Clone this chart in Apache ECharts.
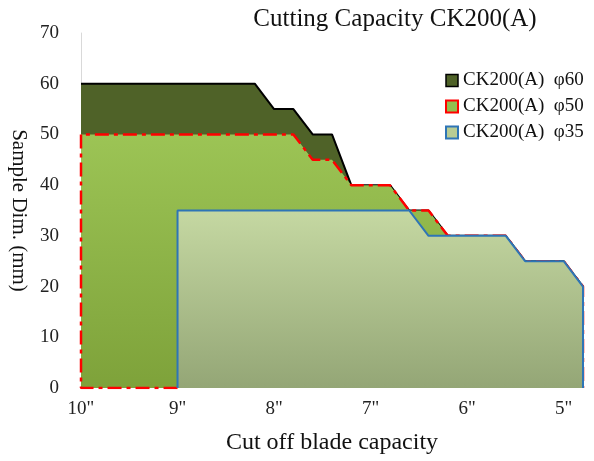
<!DOCTYPE html>
<html>
<head>
<meta charset="utf-8">
<script src="https://cdn.jsdelivr.net/npm/echarts@6/dist/echarts.min.js"></script>
<style>
  html, body { margin: 0; padding: 0; background: #fff; }
  #chart { width: 594px; height: 461px; }
</style>
</head>
<body>
<div id="chart"></div>
<script>
// blade size (inch) and sample dim (mm) outline points
const seriesNames = ['CK200(A)  φ60', 'CK200(A)  φ50', 'CK200(A)  φ35'];
const phi60X = [10, 8.2, 8.0, 7.8, 7.6, 7.4, 7.2, 6.8, 6.6, 6.4, 6.2, 5.6, 5.4, 5.0, 4.8, 4.8];
const phi60Y = [60, 60, 55, 55, 50, 50, 40, 40, 35, 35, 30, 30, 25, 25, 20, 0];
const phi50X = [9, 10, 10, 7.8, 7.6, 7.4, 7.2, 6.8, 6.6, 6.4, 6.2, 5.6, 5.4, 5.0, 4.8, 4.8];
const phi50Y = [0, 0, 50, 50, 45, 45, 40, 40, 35, 35, 30, 30, 25, 25, 20, 0];
const phi35X = [9, 9, 6.6, 6.4, 5.6, 5.4, 5.0, 4.8, 4.8];
const phi35Y = [0, 35, 35, 30, 30, 25, 25, 20, 0];
const xTicks = [10, 9, 8, 7, 6, 5];

const FONT = "'Liberation Serif', serif";

const zip = (xs, ys) => xs.map((x, i) => [x, ys[i]]);

const chart = echarts.init(document.getElementById('chart'));

const grad = (top, bottom) => new echarts.graphic.LinearGradient(0, 0, 0, 1, [
  { offset: 0, color: top },
  { offset: 1, color: bottom }
]);

const option = {
  backgroundColor: '#fff',
  animation: false,
  title: {
    text: 'Cutting Capacity CK200(A)',
    left: 390,
    textAlign: 'center',
    top: 2,
    textStyle: { fontFamily: FONT, fontSize: 25, fontWeight: 'normal', color: '#111' }
  },
  legend: {
    orient: 'vertical',
    left: 440,
    top: 66,
    itemGap: 7,
    itemWidth: 12,
    itemHeight: 12,
    textStyle: { fontFamily: FONT, fontSize: 19, color: '#111' },
    data: [
      { name: seriesNames[0], icon: 'rect', itemStyle: { color: '#4F6228', borderColor: '#000', borderWidth: 1.5 } },
      { name: seriesNames[1], icon: 'rect', itemStyle: { color: '#92BE4E', borderColor: '#FF0000', borderWidth: 2 } },
      { name: seriesNames[2], icon: 'rect', itemStyle: { color: '#B8CC94', borderColor: '#2E75B6', borderWidth: 2 } }
    ]
  },
  grid: { left: 81, right: 11, top: 33, bottom: 73, outerBoundsMode: 'none' },
  xAxis: {
    type: 'value',
    min: 4.8,
    max: 10,
    interval: 0.2,
    inverse: true,
    name: 'Cut off blade capacity',
    nameLocation: 'middle',
    nameGap: 43,
    nameTextStyle: { fontFamily: FONT, fontSize: 24, color: '#111' },
    axisLine: { show: false },
    axisTick: { show: false },
    splitLine: { show: false },
    axisLabel: {
      fontFamily: FONT, fontSize: 19, color: '#222', margin: 12,
      showMinLabel: true,
      showMaxLabel: true,
      formatter: v => {
        const r = Math.round(v);
        return Math.abs(v - r) < 1e-6 && xTicks.includes(r) ? r + '"' : '';
      }
    }
  },
  yAxis: {
    type: 'value',
    min: 0,
    max: 70,
    interval: 10,
    name: 'Sample Dim. (mm)',
    nameLocation: 'middle',
    nameRotate: -90,
    nameGap: 50,
    nameTextStyle: { fontFamily: FONT, fontSize: 21, color: '#111' },
    axisLine: { show: true, lineStyle: { color: '#D9D9D9', width: 1 } },
    axisTick: { show: false },
    splitLine: { show: false },
    axisLabel: { fontFamily: FONT, fontSize: 19, color: '#222', margin: 22 }
  },
  series: [
    {
      name: seriesNames[0],
      type: 'line',
      showSymbol: false,
      data: zip(phi60X, phi60Y),
      itemStyle: { color: '#4F6228' },
      lineStyle: { color: '#000', width: 2 },
      areaStyle: { color: '#4F6228', opacity: 1 },
      z: 1
    },
    {
      name: seriesNames[1],
      type: 'line',
      showSymbol: false,
      data: zip(phi50X, phi50Y),
      itemStyle: { color: '#92BE4E' },
      lineStyle: { color: '#FF0000', width: 2.5, type: [14, 5, 4, 5] },
      areaStyle: { color: grad('#9CC455', '#7EA23A'), opacity: 1 },
      z: 2
    },
    {
      name: seriesNames[2],
      type: 'line',
      showSymbol: false,
      data: zip(phi35X, phi35Y),
      itemStyle: { color: '#B8CC94' },
      lineStyle: { color: '#2E75B6', width: 2 },
      areaStyle: { color: grad('#C5D8A2', '#94A676'), opacity: 1 },
      z: 3
    }
  ]
};

chart.setOption(option);
</script>
</body>
</html>
